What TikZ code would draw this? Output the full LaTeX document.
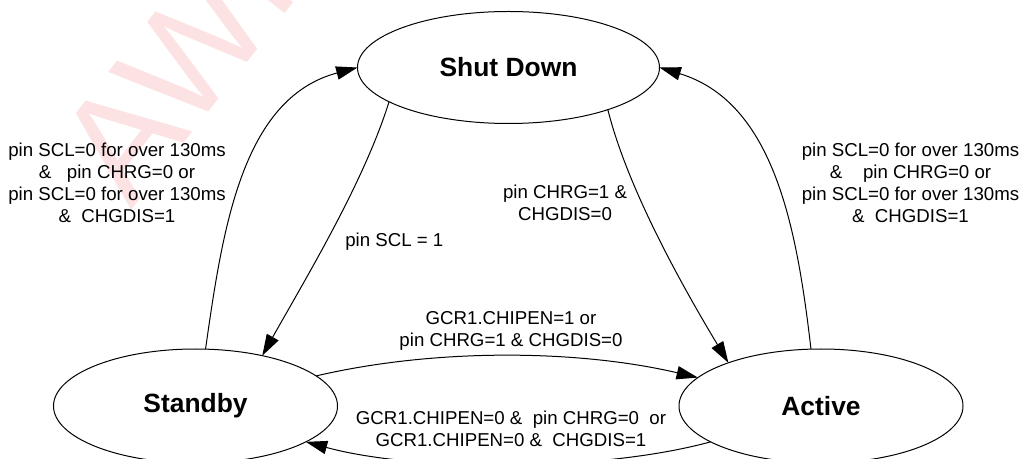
\documentclass[tikz,border=0pt]{standalone}
\usepackage{fontspec}
\setmainfont{Liberation Sans}
\usetikzlibrary{arrows.meta,shapes.geometric}
\definecolor{wmpink}{RGB}{252,226,226}
\begin{document}
\begin{tikzpicture}[x=0.75pt,y=-0.75pt,
  state/.style={draw, ellipse, line width=0.75pt, inner sep=0pt, outer sep=0pt,
    font=\fontsize{19.8}{22}\selectfont\bfseries},
  conn/.style={line width=0.75pt, -{Triangle[length=16pt,width=10pt]}},
  lbl/.style={inner sep=0pt, align=center, font=\fontsize{14}{16.5}\selectfont},
  wmark/.style={inner sep=0pt, text=wmpink, font=\fontsize{112.5}{120}\selectfont}]
\useasboundingbox (0,0) rectangle (1024,459);
\begin{scope}
  \clip (0,0) rectangle (1024,459);
  \node[wmark, rotate=52, anchor=base west] (wm) at (131,211) {AWINIC};
\end{scope}

% states
\node[state, minimum width=226.5pt, minimum height=84pt] (sd) at (508.5,67.5) {Shut Down};
\node[state, minimum width=213pt, minimum height=85.5pt] (sb) at (195.5,406) {Standby};
\node[state, minimum width=213pt, minimum height=85.5pt] (ac) at (821,406) {Active};

% connectors
\draw[conn] (sb.80) .. controls +(17,-119) and +(-116,31) .. (sd.west);
\draw[conn] (sd.196) .. controls +(-25,80) and +(45,-80) .. (sb.37);
\draw[conn] (sd.337.5) .. controls +(20,80) and +(-45,-75) .. (ac.155);
\draw[conn] (ac.100) .. controls +(-14,-120) and +(115,35) .. (sd.east);
\draw[conn] (sb.14) .. controls +(120,-28) and +(-120,-28) .. (ac.167);
\draw[conn] (ac.198) .. controls +(-110,30) and +(110,30) .. (sb.342);

% labels
\node[lbl] (l1) at (117,183) {pin SCL=0 for over 130ms\\\&\ \ \ pin CHRG=0 or\\pin SCL=0 for over 130ms\\\&\ \ CHGDIS=1};
\node[lbl] (l2) at (910.5,183) {pin SCL=0 for over 130ms\\\&\ \ \ \ pin CHRG=0 or\\pin SCL=0 for over 130ms\\\&\ \ CHGDIS=1};
\node[lbl, anchor=base west] (l3) at (345,247) {pin SCL = 1};
\node[lbl] (l4) at (565,203) {pin CHRG=1 \&\\CHGDIS=0};
\node[lbl] (l5) at (511,331) {GCR1.CHIPEN=1 or\\pin CHRG=1 \& CHGDIS=0};
\node[lbl] (l6) at (511,429) {GCR1.CHIPEN=0 \&\ \ pin CHRG=0\ \ or\\GCR1.CHIPEN=0 \&\ \ CHGDIS=1};
\end{tikzpicture}
\end{document}
